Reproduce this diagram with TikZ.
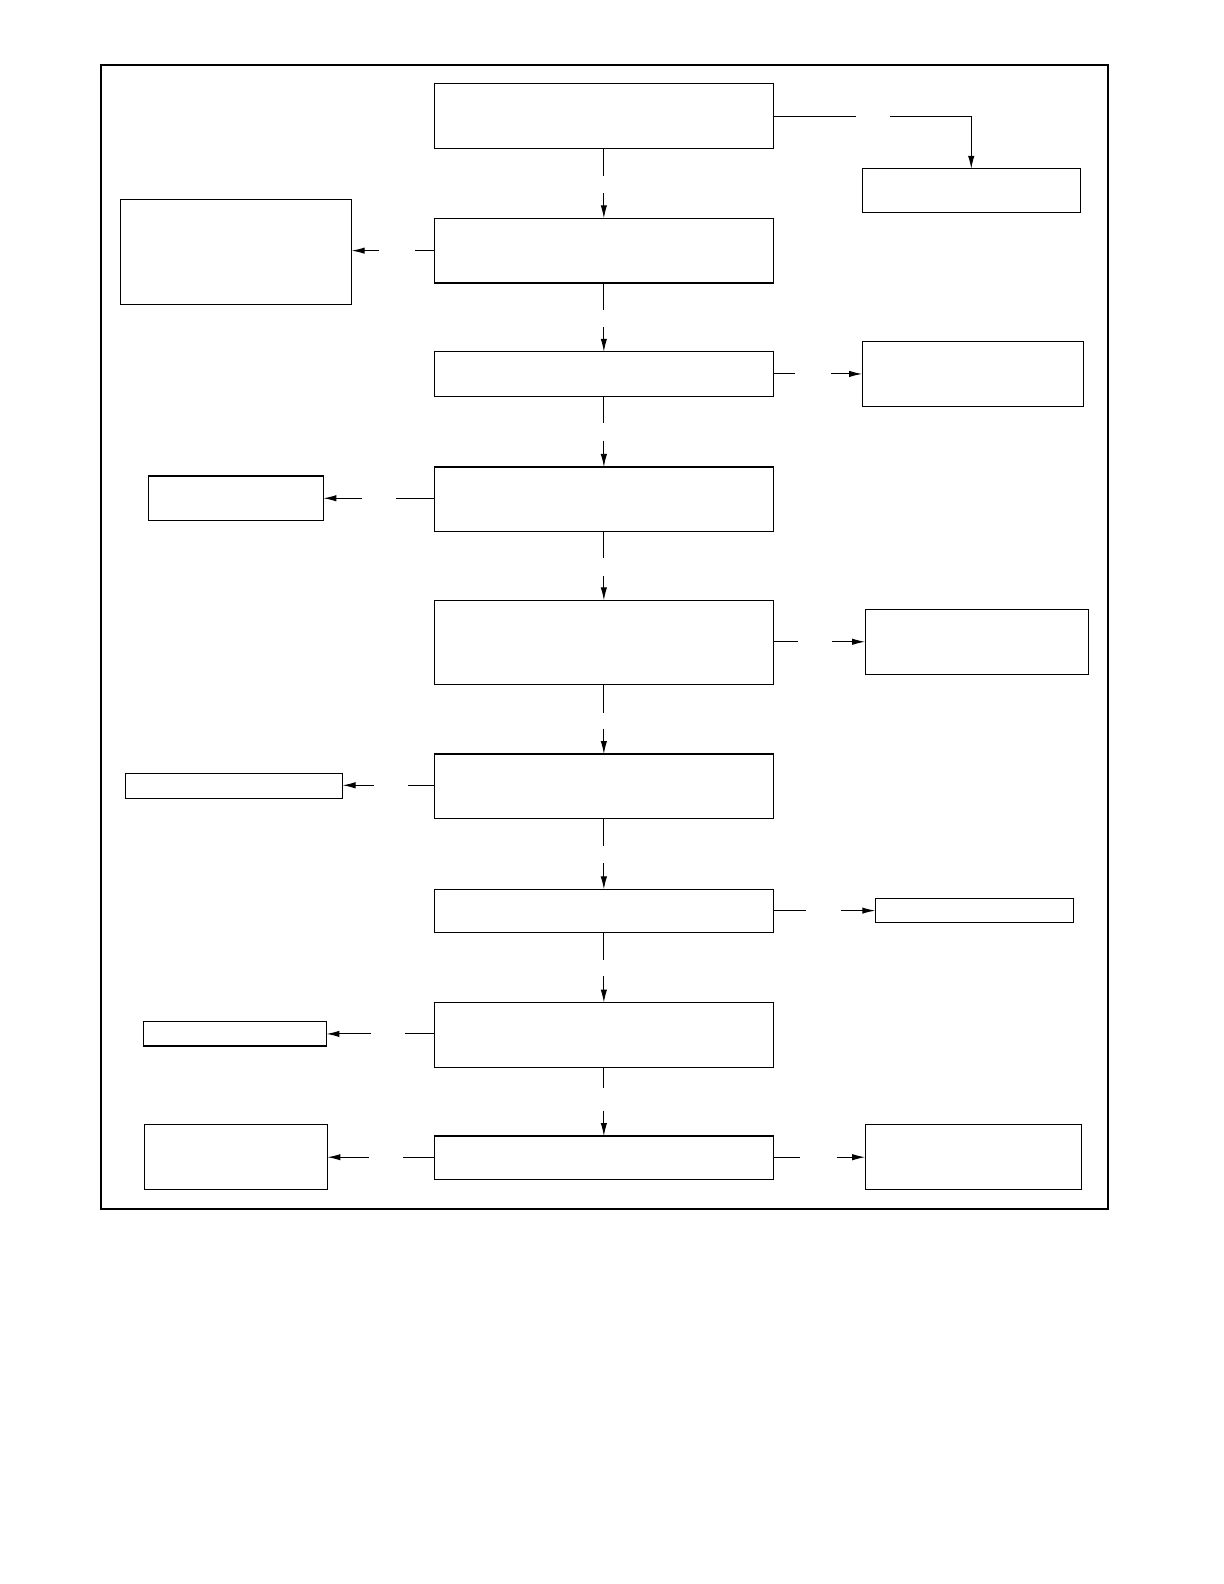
\documentclass[tikz,border=0pt]{standalone}
\usetikzlibrary{arrows.meta}

\newcommand{\unitlen}{0.50535bp}
\tikzset{
  box/.style 2 args = {draw, line width = 0.6pt, inner sep = 0, outer sep = 0,
    minimum width = #1*\unitlen, minimum height = #2*\unitlen},
  flow/.style = {line width = 0.5pt},
  flowto/.style = {line width = 0.5pt, -{Latex[length = 6.5pt, width = 3.2pt]}}
}

\begin{document}
\begin{tikzpicture}[x = \unitlen, y = -\unitlen]
      \useasboundingbox (0, 0) rectangle (1211.1, 1567.3);
      \draw [line width = 1pt] (100, 64) rectangle (1096, 1196);

      % main column
      \node [box = {335}{64}] (m1) at (597.5, 115) {};
      \node [box = {335}{64}] (m2) at (597.5, 248) {};
      \node [box = {335}{44}] (m3) at (597.5, 370) {};
      \node [box = {335}{64}] (m4) at (597.5, 494) {};
      \node [box = {335}{83}] (m5) at (597.5, 635.5) {};
      \node [box = {335}{64}] (m6) at (597.5, 778) {};
      \node [box = {335}{43}] (m7) at (597.5, 901.5) {};
      \node [box = {335}{64}] (m8) at (597.5, 1024) {};
      \node [box = {335}{43}] (m9) at (597.5, 1145.5) {};

      % side boxes
      \node [box = {216}{43}] (r1) at (961, 188.5) {};
      \node [box = {229}{104}] (l1) at (233.5, 249) {};
      \node [box = {219}{64}] (r2) at (962.5, 370) {};
      \node [box = {173}{44}] (l2) at (233.5, 493) {};
      \node [box = {221}{64}] (r3) at (966.5, 635) {};
      \node [box = {215}{25}] (l3) at (231.5, 777.5) {};
      \node [box = {196}{24}] (r4) at (964, 901) {};
      \node [box = {181}{24}] (l4) at (232.5, 1023) {};
      \node [box = {181}{64}] (l5) at (233.5, 1145) {};
      \node [box = {214}{64}] (r5) at (963, 1145) {};

      % gaps in the down connectors
      \coordinate (d1a) at (597.5, 174);  \coordinate (d1b) at (597.5, 191);
      \coordinate (d2a) at (597.5, 307);  \coordinate (d2b) at (597.5, 324);
      \coordinate (d3a) at (597.5, 419);  \coordinate (d3b) at (597.5, 436);
      \coordinate (d4a) at (597.5, 552);  \coordinate (d4b) at (597.5, 570);
      \coordinate (d5a) at (597.5, 705);  \coordinate (d5b) at (597.5, 721);
      \coordinate (d6a) at (597.5, 837);  \coordinate (d6b) at (597.5, 854);
      \coordinate (d7a) at (597.5, 950);  \coordinate (d7b) at (597.5, 966);
      \coordinate (d8a) at (597.5, 1077); \coordinate (d8b) at (597.5, 1099);

      \draw [flow] (m1) -- (d1a);  \draw [flowto] (d1b) -- (m2);
      \draw [flow] (m2) -- (d2a);  \draw [flowto] (d2b) -- (m3);
      \draw [flow] (m3) -- (d3a);  \draw [flowto] (d3b) -- (m4);
      \draw [flow] (m4) -- (d4a);  \draw [flowto] (d4b) -- (m5);
      \draw [flow] (m5) -- (d5a);  \draw [flowto] (d5b) -- (m6);
      \draw [flow] (m6) -- (d6a);  \draw [flowto] (d6b) -- (m7);
      \draw [flow] (m7) -- (d7a);  \draw [flowto] (d7b) -- (m8);
      \draw [flow] (m8) -- (d8a);  \draw [flowto] (d8b) -- (m9);

      % gaps in the side connectors
      \coordinate (s1a) at (847, 115);  \coordinate (s1b) at (881, 115);
      \coordinate (s2a) at (411, 248);  \coordinate (s2b) at (375, 248);
      \coordinate (s3a) at (787, 370);  \coordinate (s3b) at (822, 370);
      \coordinate (s4a) at (392, 493);  \coordinate (s4b) at (358, 493);
      \coordinate (s5a) at (790, 635);  \coordinate (s5b) at (823, 635);
      \coordinate (s6a) at (404, 777);  \coordinate (s6b) at (370, 777);
      \coordinate (s7a) at (797, 901);  \coordinate (s7b) at (832, 901);
      \coordinate (s8a) at (401, 1023); \coordinate (s8b) at (367, 1023);
      \coordinate (s9a) at (399, 1145); \coordinate (s9b) at (365, 1145);
      \coordinate (s10a) at (792, 1145); \coordinate (s10b) at (828, 1145);

      \draw [flow] (m1.east |- s1a) -- (s1a);
      \draw [flowto] (s1b) -| (r1.north);
      \draw [flow] (m2.west |- s2a) -- (s2a);
      \draw [flowto] (s2b) -- (s2b -| l1.east);
      \draw [flow] (m3.east |- s3a) -- (s3a);
      \draw [flowto] (s3b) -- (s3b -| r2.west);
      \draw [flow] (m4.west |- s4a) -- (s4a);
      \draw [flowto] (s4b) -- (s4b -| l2.east);
      \draw [flow] (m5.east |- s5a) -- (s5a);
      \draw [flowto] (s5b) -- (s5b -| r3.west);
      \draw [flow] (m6.west |- s6a) -- (s6a);
      \draw [flowto] (s6b) -- (s6b -| l3.east);
      \draw [flow] (m7.east |- s7a) -- (s7a);
      \draw [flowto] (s7b) -- (s7b -| r4.west);
      \draw [flow] (m8.west |- s8a) -- (s8a);
      \draw [flowto] (s8b) -- (s8b -| l4.east);
      \draw [flow] (m9.west |- s9a) -- (s9a);
      \draw [flowto] (s9b) -- (s9b -| l5.east);
      \draw [flow] (m9.east |- s10a) -- (s10a);
      \draw [flowto] (s10b) -- (s10b -| r5.west);
\end{tikzpicture}
\end{document}
